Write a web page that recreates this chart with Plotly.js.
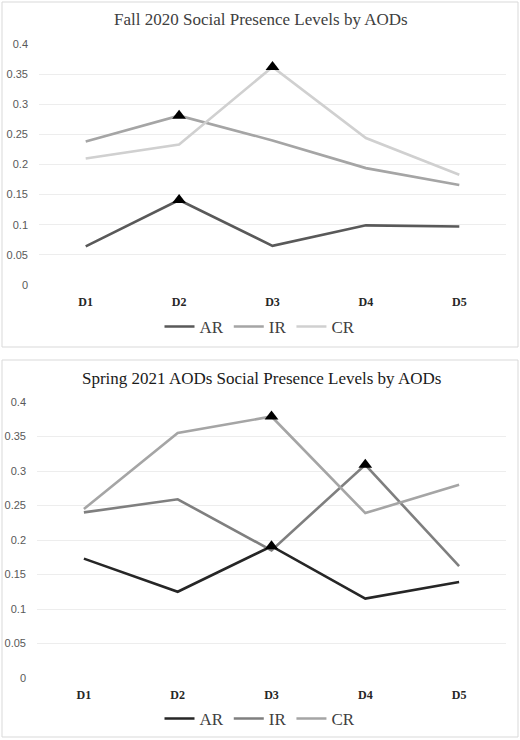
<!DOCTYPE html>
<html>
<head>
<meta charset="utf-8">
<script src="https://cdn.plot.ly/plotly-3.0.1.min.js"></script>
<style>html,body{margin:0;padding:0;background:#fff;}#chart{width:520px;height:740px;}</style>
</head>
<body>
<div id="chart"></div>
<script>
const categories = ["D1", "D2", "D3", "D4", "D5"];
const seriesNames = ["AR", "IR", "CR"];

// Fall 2020
const fallAR = [0.064, 0.141, 0.065, 0.099, 0.097];
const fallIR = [0.238, 0.281, 0.240, 0.194, 0.166];
const fallCR = [0.210, 0.233, 0.362, 0.244, 0.183];
// Spring 2021
const springAR = [0.173, 0.125, 0.191, 0.115, 0.139];
const springIR = [0.240, 0.259, 0.185, 0.309, 0.162];
const springCR = [0.245, 0.355, 0.379, 0.239, 0.280];

const yTickVals = [0, 0.05, 0.1, 0.15, 0.2, 0.25, 0.3, 0.35, 0.4];
const yTickText = ["0", "0.05", "0.1", "0.15", "0.2", "0.25", "0.3", "0.35", "0.4"];

const titleFall = "Fall 2020 Social Presence Levels by AODs";
const titleSpring = "Spring 2021 AODs Social Presence Levels by AODs";

// highlighted (triangle) points: [series, index]
const fallPeaks = [["AR", 1], ["IR", 1], ["CR", 2]];
const springPeaks = [["CR", 2], ["IR", 3], ["AR", 2]];

const fallColors = {AR: "#595959", IR: "#a5a5a5", CR: "#d0d0d0"};
const springColors = {AR: "#262626", IR: "#7f7f7f", CR: "#a5a5a5"};

const fallData = {AR: fallAR, IR: fallIR, CR: fallCR};
const springData = {AR: springAR, IR: springIR, CR: springCR};

const traces = [];
function addChart(data, colors, peaks, xa, ya, leg) {
  seriesNames.forEach(n => {
    traces.push({
      x: categories, y: data[n], name: n, type: "scatter", mode: "lines",
      line: {color: colors[n], width: 2.6}, xaxis: xa, yaxis: ya, legend: leg,
      hoverinfo: "skip"
    });
  });
  peaks.forEach(p => {
    traces.push({
      x: [categories[p[1]]], y: [data[p[0]][p[1]]], type: "scatter", mode: "markers",
      marker: {symbol: "triangle-up", size: 12, color: "#000"},
      showlegend: false, xaxis: xa, yaxis: ya, hoverinfo: "skip"
    });
  });
}
addChart(fallData, fallColors, fallPeaks, "x", "y", "legend");
addChart(springData, springColors, springPeaks, "x2", "y2", "legend2");

const W = 520, H = 740;
const px = v => v / W;
const py = v => 1 - v / H;

const yaxisBase = {
  range: [0, 0.4], tickvals: yTickVals, ticktext: yTickText,
  showgrid: true, gridcolor: "#ededed", gridwidth: 1, zeroline: false,
  showline: false, ticks: "", ticklabelstandoff: 10,
  tickfont: {family: "Liberation Sans, Arial, sans-serif", size: 11, color: "#595959"},
  fixedrange: true
};
const xaxisBase = {
  type: "category", range: [-0.5, 4.5], showgrid: false, zeroline: false,
  showline: false, ticks: "",
  tickfont: {family: "Liberation Serif, Times New Roman, serif", size: 12, color: "#262626", weight: "bold"},
  fixedrange: true
};

const legendFont = {family: "Liberation Serif, Times New Roman, serif", size: 17, color: "#404040"};

const layout = {
  width: W, height: H,
  margin: {l: 0, r: 0, t: 0, b: 0},
  paper_bgcolor: "#fff", plot_bgcolor: "#fff",
  showlegend: true,
  xaxis: Object.assign({}, xaxisBase, {domain: [px(39), px(506)], anchor: "y", ticklabelstandoff: 8}),
  yaxis: Object.assign({}, yaxisBase, {domain: [py(285), py(44)], anchor: "x"}),
  xaxis2: Object.assign({}, xaxisBase, {domain: [px(37), px(506)], anchor: "y2", ticklabelstandoff: 8}),
  yaxis2: Object.assign({}, yaxisBase, {domain: [py(678), py(402)], anchor: "x2"}),
  legend: {orientation: "h", x: 0.5, xanchor: "center", y: py(327), yanchor: "middle",
           font: legendFont, itemwidth: 30, tracegroupgap: 0, bgcolor: "rgba(0,0,0,0)"},
  legend2: {orientation: "h", x: 0.5, xanchor: "center", y: py(719), yanchor: "middle",
           font: legendFont, itemwidth: 30, tracegroupgap: 0, bgcolor: "rgba(0,0,0,0)"},
  annotations: [
    {text: titleFall, xref: "paper", yref: "paper", x: px(261), y: py(20), xanchor: "center", yanchor: "middle",
     showarrow: false, font: {family: "Liberation Serif, Times New Roman, serif", size: 17, color: "#404040"}},
    {text: titleSpring, xref: "paper", yref: "paper", x: px(261), y: py(378), xanchor: "center", yanchor: "middle",
     showarrow: false, font: {family: "Liberation Serif, Times New Roman, serif", size: 17, color: "#1a1a1a"}}
  ],
  shapes: [
    {type: "rect", xref: "paper", yref: "paper", x0: px(2), x1: px(518), y0: py(2), y1: py(347),
     line: {color: "#d9d9d9", width: 1}},
    {type: "rect", xref: "paper", yref: "paper", x0: px(2), x1: px(518), y0: py(360), y1: py(737),
     line: {color: "#d9d9d9", width: 1}}
  ]
};

Plotly.newPlot("chart", traces, layout, {displayModeBar: false, staticPlot: true});
</script>
</body>
</html>
